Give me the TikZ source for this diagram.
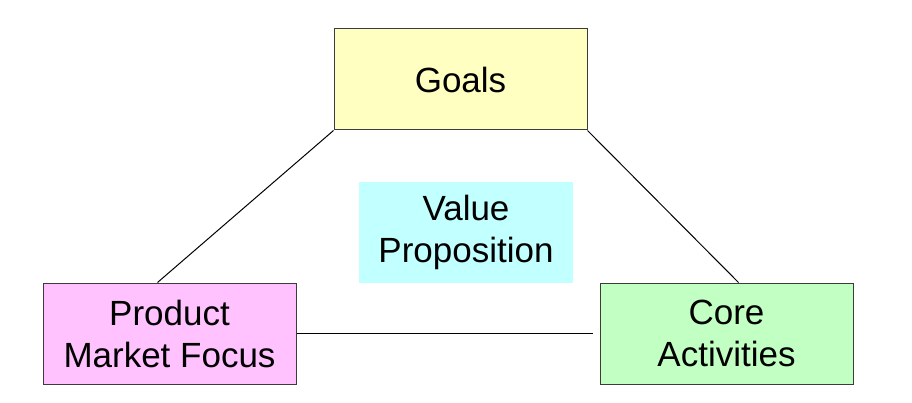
\documentclass[tikz,border=0pt]{standalone}
\usepackage{fontspec}
\setmainfont{Liberation Sans}
\usetikzlibrary{positioning}

\definecolor{goalsfill}{RGB}{255,255,194}
\definecolor{pmffill}{RGB}{255,194,255}
\definecolor{corefill}{RGB}{194,255,194}
\definecolor{valuefill}{RGB}{194,255,255}
\definecolor{boxline}{RGB}{60,60,60}

\begin{document}
\begin{tikzpicture}[line width = 1pt, % line style
                font = \fontsize{35}{42}\selectfont
            ]

            \tikzstyle{box}=[draw = boxline, rectangle, align = center,
            minimum width = 253pt, minimum height = 101pt, inner sep = 0pt]

            \useasboundingbox (0pt,0pt) rectangle (912pt,402pt);

            \node[box, fill = goalsfill] (goals) at (460.5pt,322.5pt) {Goals};
            \node[box, fill = pmffill] (pmf) [below left = 152pt and 37pt of
                goals.south west] {Product\\Market Focus};
            \node[box, fill = corefill] (core) [below right = 152pt and 12pt of
                goals.south east] {Core\\Activities};
            \node[box, draw = none, fill = valuefill, minimum width = 214pt]
            (value) [below = 51pt of goals.south, xshift = 5.5pt] {Value\\Proposition};

            \path (goals.south west) edge ([xshift=-12pt]pmf.north);
            \path (goals.south east) edge ([xshift=12pt]core.north);
            \path[shorten > = 7pt] (pmf.east) edge (core.west);
        \end{tikzpicture}
\end{document}
